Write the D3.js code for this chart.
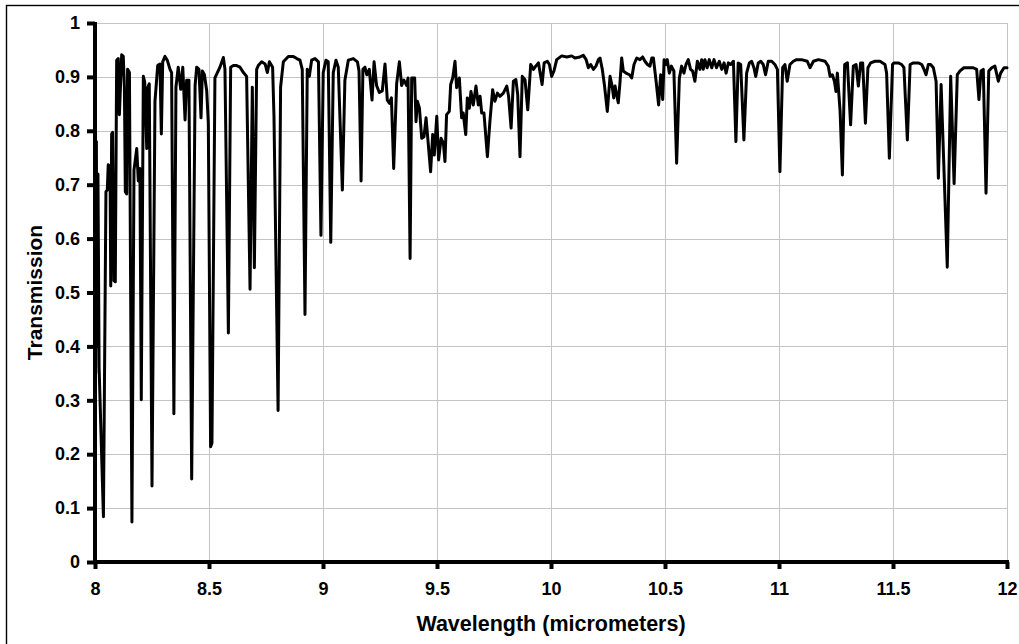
<!DOCTYPE html>
<html><head><meta charset="utf-8">
<script src="https://cdn.jsdelivr.net/npm/d3@7"></script>
<style>
body{margin:0;background:#fff}
svg{display:block}
text{font-family:"Liberation Sans",Arial,sans-serif;font-weight:bold;fill:#000}
</style>
</head><body>
<svg id="chart" width="1019" height="644"></svg>
<script>
// ---- data (wavelength in micrometers, transmission 0..1) ----
const wavelengthA = [8.000,8.003,8.006,8.009,8.013,8.018,8.037,8.048,8.054,8.058,
  8.066,8.069,8.073,8.077,8.083,8.089,8.095,8.102,8.107,8.117,
  8.124,8.129,8.133,8.139,8.143,8.151,8.162,8.171,8.183,8.190,
  8.197,8.203,8.212,8.218,8.227,8.232,8.238,8.250,8.263,8.275,
  8.285,8.291,8.297,8.307,8.317,8.329,8.336,8.346,8.355,8.365,
  8.376,8.385,8.395,8.402,8.412,8.424,8.439,8.446,8.456,8.465,
  8.471,8.480,8.490,8.497,8.507,8.513,8.526,8.548,8.563,8.570,
  8.585,8.595,8.607,8.621,8.636,8.651,8.665,8.680,8.690,8.699,
  8.709];
const transmissionA = [0.74,0.35,0.78,0.40,0.72,0.36,0.084,0.687,0.69,0.737,
  0.733,0.512,0.794,0.797,0.522,0.52,0.931,0.934,0.83,0.941,
  0.938,0.88,0.687,0.683,0.914,0.908,0.074,0.727,0.767,0.707,
  0.73,0.301,0.901,0.891,0.767,0.881,0.887,0.141,0.854,0.921,
  0.924,0.794,0.928,0.938,0.931,0.914,0.908,0.275,0.881,0.918,
  0.877,0.918,0.82,0.894,0.894,0.154,0.884,0.918,0.914,0.824,
  0.911,0.904,0.874,0.814,0.214,0.221,0.898,0.918,0.936,0.914,
  0.425,0.918,0.921,0.921,0.918,0.908,0.901,0.506,0.881,0.546,
  0.914];

const wavelengthB = [8.716,8.731,8.746,8.756,8.765,8.779,8.785,8.803,8.814,8.826,
  8.848,8.870,8.885,8.899,8.909,8.921,8.931,8.940,8.950,8.965,
  8.980,8.991,9.001,9.013,9.023,9.034,9.045,9.057,9.067,9.085,
  9.096,9.111,9.133,9.151,9.158,9.167,9.175,9.184,9.192,9.203,
  9.215,9.224,9.235,9.247,9.260,9.272,9.282,9.291,9.300,9.310,
  9.323,9.335,9.345,9.355,9.367,9.373,9.382,9.389];
const transmissionB = [0.921,0.928,0.924,0.908,0.928,0.918,0.827,0.281,0.881,0.928,
  0.938,0.938,0.934,0.931,0.914,0.459,0.914,0.901,0.931,0.934,
  0.928,0.606,0.908,0.931,0.928,0.593,0.908,0.931,0.918,0.69,
  0.894,0.931,0.934,0.928,0.911,0.707,0.914,0.918,0.904,0.914,
  0.857,0.928,0.884,0.871,0.874,0.924,0.857,0.851,0.861,0.73,
  0.887,0.928,0.884,0.894,0.884,0.898,0.563,0.898];

const wavelengthC = [9.402,9.408,9.414,9.423,9.433,9.443,9.452,9.462,9.472,9.481,
  9.488,9.499,9.507,9.518,9.528,9.535,9.542,9.554,9.560,9.569,
  9.579,9.586,9.598,9.608,9.615,9.626,9.633,9.642,9.649,9.659,
  9.671,9.681,9.689,9.696,9.706,9.721,9.732,9.744,9.754,9.765,
  9.776,9.791,9.806,9.814,9.825,9.835,9.846,9.854,9.864,9.874,
  9.886,9.898,9.911,9.923,9.933,9.945,9.961,9.970,9.984,9.993,
  10.003,10.013,10.025,10.047,10.069,10.091,10.105,10.127];
const transmissionC = [0.898,0.817,0.855,0.842,0.786,0.789,0.824,0.774,0.724,0.793,
  0.755,0.827,0.746,0.786,0.777,0.743,0.83,0.836,0.886,0.898,
  0.929,0.88,0.898,0.824,0.833,0.793,0.861,0.842,0.873,0.848,
  0.883,0.848,0.864,0.833,0.833,0.752,0.817,0.876,0.855,0.87,
  0.864,0.87,0.883,0.864,0.805,0.892,0.895,0.867,0.752,0.901,
  0.895,0.839,0.923,0.914,0.92,0.926,0.886,0.926,0.929,0.923,
  0.901,0.911,0.932,0.939,0.937,0.939,0.935,0.937];

const wavelengthD = [10.142,10.154,10.164,10.174,10.186,10.197,10.208,10.215,10.225,10.234,
  10.247,10.259,10.268,10.275,10.281,10.288,10.295,10.303,10.310,10.317,
  10.329,10.344,10.354,10.364,10.376,10.390,10.402,10.412,10.423,10.434,
  10.442,10.449,10.461,10.472,10.481,10.490,10.496,10.503,10.510,10.519,
  10.528,10.539,10.551,10.563,10.573,10.583,10.592,10.602,10.612,10.621,
  10.631,10.642,10.653,10.661,10.668,10.675,10.685,10.694,10.705,10.715,
  10.726,10.738,10.749,10.759,10.768,10.778,10.788,10.800,10.811,10.821];
const transmissionD = [0.94,0.932,0.917,0.923,0.914,0.92,0.932,0.935,0.914,0.886,
  0.836,0.901,0.883,0.861,0.883,0.867,0.852,0.892,0.935,0.911,
  0.907,0.904,0.898,0.923,0.935,0.932,0.937,0.929,0.923,0.92,
  0.935,0.935,0.892,0.848,0.904,0.858,0.932,0.923,0.932,0.907,
  0.92,0.911,0.74,0.898,0.92,0.907,0.923,0.932,0.914,0.911,
  0.892,0.929,0.914,0.932,0.914,0.932,0.917,0.932,0.917,0.932,
  0.917,0.929,0.914,0.926,0.907,0.926,0.923,0.929,0.78,0.926];

const wavelengthE = [10.832,10.846,10.858,10.870,10.880,10.890,10.898,10.909,10.920,10.931,
  10.941,10.953,10.968,10.982,10.993,11.004,11.016,11.026,11.036,11.048,
  11.063,11.077,11.099,11.124,11.136,11.151,11.173,11.202,11.216,11.224,
  11.234,11.243,11.250,11.256,11.268,11.278,11.288,11.300,11.314,11.326,
  11.338,11.348,11.358,11.367,11.379,11.390,11.402,11.421,11.443,11.465,
  11.472,11.484,11.498];
const transmissionE = [0.923,0.783,0.907,0.926,0.929,0.917,0.901,0.926,0.929,0.923,
  0.904,0.929,0.929,0.923,0.914,0.724,0.917,0.923,0.892,0.923,
  0.929,0.932,0.932,0.929,0.917,0.929,0.932,0.929,0.92,0.901,
  0.904,0.892,0.873,0.907,0.836,0.718,0.923,0.926,0.811,0.92,
  0.923,0.883,0.926,0.926,0.814,0.917,0.926,0.929,0.929,0.923,
  0.907,0.749,0.923];

const wavelengthF = [11.504,11.523,11.538,11.548,11.563,11.575,11.589,11.611,11.626,11.636,
  11.645,11.655,11.665,11.677,11.689,11.699,11.711,11.738,11.753,11.768,
  11.782,11.794,11.811,11.830,11.852,11.867,11.877,11.886,11.896,11.908,
  11.920,11.933,11.947,11.962,11.972,11.987,12.000];
const transmissionF = [0.926,0.926,0.923,0.917,0.783,0.923,0.926,0.926,0.923,0.914,
  0.904,0.923,0.923,0.917,0.892,0.712,0.886,0.547,0.901,0.702,
  0.904,0.911,0.917,0.917,0.917,0.914,0.858,0.911,0.914,0.684,
  0.911,0.917,0.92,0.892,0.907,0.917,0.917];

const xTicks = [8, 8.5, 9, 9.5, 10, 10.5, 11, 11.5, 12];
const xTickLabels = ["8", "8.5", "9", "9.5", "10", "10.5", "11", "11.5", "12"];
const yTicks = [0, 0.1, 0.2, 0.3, 0.4, 0.5, 0.6, 0.7, 0.8, 0.9, 1];
const yTickLabels = ["0", "0.1", "0.2", "0.3", "0.4", "0.5", "0.6", "0.7", "0.8", "0.9", "1"];
const xTitle = "Wavelength (micrometers)";
const yTitle = "Transmission";

// ---- build series ----
const wl = [].concat(wavelengthA, wavelengthB, wavelengthC, wavelengthD, wavelengthE, wavelengthF);
const tr = [].concat(transmissionA, transmissionB, transmissionC, transmissionD, transmissionE, transmissionF);
const series = wl.map((w, i) => ({w, t: tr[i]}));

// ---- layout ----
const plot = {left: 95, right: 1007, top: 23, bottom: 562};
const svg = d3.select("#chart");

const x = d3.scaleLinear().domain([8, 12]).range([plot.left, plot.right]);
const y = d3.scaleLinear().domain([0, 1]).range([plot.bottom, plot.top]);

// outer border
svg.append("rect")
  .attr("x", 6.5).attr("y", 5.5)
  .attr("width", 1200).attr("height", 1000)
  .attr("fill", "none").attr("stroke", "#000").attr("stroke-width", 1.4);

// gridlines
const grid = svg.append("g").attr("stroke", "#c4c4c4").attr("stroke-width", 1);
grid.selectAll("line.h").data(yTicks.filter(v => v > 0)).join("line")
  .attr("x1", plot.left).attr("x2", plot.right)
  .attr("y1", d => Math.round(y(d)) + 0.5).attr("y2", d => Math.round(y(d)) + 0.5);
grid.selectAll("line.v").data(xTicks.filter(v => v > 8)).join("line")
  .attr("y1", plot.top).attr("y2", plot.bottom)
  .attr("x1", d => Math.round(x(d)) + 0.5).attr("x2", d => Math.round(x(d)) + 0.5);

// spectrum line
const line = d3.line().x(d => x(d.w)).y(d => y(d.t));
svg.append("path").datum(series)
  .attr("d", line)
  .attr("fill", "none").attr("stroke", "#000")
  .attr("stroke-width", 3).attr("stroke-linejoin", "round").attr("stroke-linecap", "round");

// axes
const yAxis = d3.axisLeft(y).tickValues(yTicks)
  .tickFormat((d, i) => yTickLabels[i]).tickSize(8).tickSizeOuter(0).tickPadding(7);
const gy = svg.append("g").attr("transform", `translate(${plot.left},0)`).call(yAxis);
const xAxis = d3.axisBottom(x).tickValues(xTicks)
  .tickFormat((d, i) => xTickLabels[i]).tickSize(7).tickSizeOuter(0).tickPadding(13);
const gx = svg.append("g").attr("transform", `translate(0,${plot.bottom})`).call(xAxis);

[gx, gy].forEach(g => {
  g.select(".domain").attr("stroke", "#000").attr("stroke-width", 4);
  g.selectAll(".tick line").attr("stroke", "#000").attr("stroke-width", 4);
  g.selectAll(".tick text").attr("font-size", 18).attr("font-weight", "bold")
    .attr("font-family", '"Liberation Sans", Arial, sans-serif').attr("fill", "#000");
});
gy.select(".domain").attr("d", `M0,${plot.bottom + 2}V${plot.top - 1}`);
gx.select(".domain").attr("d", `M${plot.left - 2},0H${plot.right + 2}`);

// titles
svg.append("text")
  .attr("x", (plot.left + plot.right) / 2).attr("y", 631)
  .attr("text-anchor", "middle").attr("font-size", 21.5)
  .text(xTitle);
svg.append("text")
  .attr("transform", `translate(42,${(plot.top + plot.bottom) / 2}) rotate(-90)`)
  .attr("text-anchor", "middle").attr("font-size", 21)
  .text(yTitle);
</script>
</body></html>
